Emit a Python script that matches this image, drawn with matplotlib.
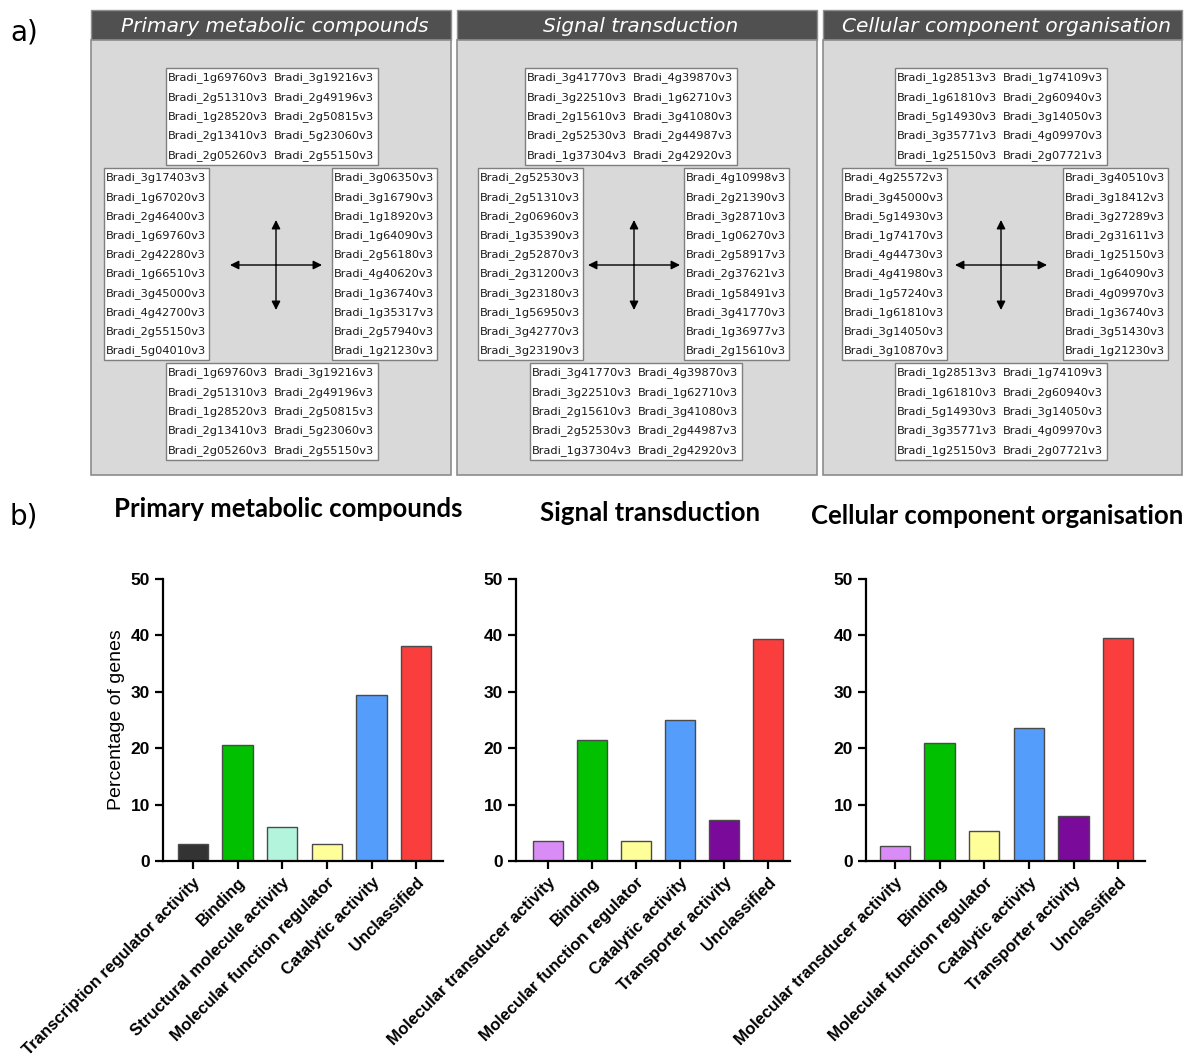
import numpy as np
import matplotlib.pyplot as plt
from matplotlib.patches import Rectangle

# ---- data: part a, gene ids (Bradi_<id>v3) ----
pmc_top = [("1g69760", "3g19216"), ("2g51310", "2g49196"), ("1g28520", "2g50815"),
           ("2g13410", "5g23060"), ("2g05260", "2g55150")]
pmc_left = ["3g17403", "1g67020", "2g46400", "1g69760", "2g42280",
            "1g66510", "3g45000", "4g42700", "2g55150", "5g04010"]
pmc_right = ["3g06350", "3g16790", "1g18920", "1g64090", "2g56180",
             "4g40620", "1g36740", "1g35317", "2g57940", "1g21230"]

sig_top = [("3g41770", "4g39870"), ("3g22510", "1g62710"), ("2g15610", "3g41080"),
           ("2g52530", "2g44987"), ("1g37304", "2g42920")]
sig_left = ["2g52530", "2g51310", "2g06960", "1g35390", "2g52870",
            "2g31200", "3g23180", "1g56950", "3g42770", "3g23190"]
sig_right = ["4g10998", "2g21390", "3g28710", "1g06270", "2g58917",
             "2g37621", "1g58491", "3g41770", "1g36977", "2g15610"]

cco_top = [("1g28513", "1g74109"), ("1g61810", "2g60940"), ("5g14930", "3g14050"),
           ("3g35771", "4g09970"), ("1g25150", "2g07721")]
cco_left = ["4g25572", "3g45000", "5g14930", "1g74170", "4g44730",
            "4g41980", "1g57240", "1g61810", "3g14050", "3g10870"]
cco_right = ["3g40510", "3g18412", "3g27289", "2g31611", "1g25150",
             "1g64090", "4g09970", "1g36740", "3g51430", "1g21230"]

titles = ["Primary metabolic compounds", "Signal transduction", "Cellular component organisation"]

# ---- data: part b ----
pmc_cats = ["Transcription regulator activity", "Binding", "Structural molecule activity",
            "Molecular function regulator", "Catalytic activity", "Unclassified"]
pmc_vals = [3.0, 20.5, 6.0, 3.0, 29.4, 38.2]
pmc_cols = ["#333333", "#00c000", "#b3f5dc", "#ffff99", "#559dfa", "#fa3d3d"]

sig_cats = ["Molecular transducer activity", "Binding", "Molecular function regulator",
            "Catalytic activity", "Transporter activity", "Unclassified"]
sig_vals = [3.6, 21.5, 3.6, 25.0, 7.2, 39.3]
sig_cols = ["#d98cf5", "#00c000", "#ffff99", "#559dfa", "#7a0a99", "#fa3d3d"]

cco_cats = ["Molecular transducer activity", "Binding", "Molecular function regulator",
            "Catalytic activity", "Transporter activity", "Unclassified"]
cco_vals = [2.6, 21.0, 5.3, 23.6, 7.9, 39.5]
cco_cols = ["#d98cf5", "#00c000", "#ffff99", "#559dfa", "#7a0a99", "#fa3d3d"]

W, H = 1188, 1062
fig = plt.figure(figsize=(W / 100, H / 100), dpi=100)

# background axes in pixel coords for part a
bg = fig.add_axes([0, 0, 1, 1])
bg.set_xlim(0, W)
bg.set_ylim(H, 0)
bg.axis("off")

gene = lambda c: f"Bradi_{c}v3"
gfont = dict(fontsize=8.2, family="DejaVu Sans", color="#1a1a1a", va="center", ha="left")

# panel layout: x0, x1, top-box x, left-box x, right-box x, bottom-box x, cross centre x
layout = [
    (91, 451, 166, 104, 332, 166, 276),
    (457, 817, 525, 478, 684, 530, 634),
    (823, 1182, 895, 842, 1063, 895, 1001),
]
panel_data = [(pmc_top, pmc_left, pmc_right), (sig_top, sig_left, sig_right),
              (cco_top, cco_left, cco_right)]

for (x0, x1, tx, lx, rx, bx, cx), (top, left, right), title in zip(layout, panel_data, titles):
    bg.add_patch(Rectangle((x0, 10), x1 - x0, 30, fc="#505050", ec="#909090", lw=1))
    bg.text((x0 + x1) / 2 + 4, 26, title, color="white", fontsize=14.5, style="italic",
            family="DejaVu Sans", ha="center", va="center")
    bg.add_patch(Rectangle((x0, 40), x1 - x0, 435, fc="#d9d9d9", ec="#8c8c8c", lw=1.2))

    # top and bottom boxes (5 rows x 2 cols)
    for bx0, y0 in [(tx, 68), (bx, 363)]:
        bg.add_patch(Rectangle((bx0, y0), 212, 97, fc="white", ec="#7f7f7f", lw=1))
        for i, (a, b) in enumerate(top):
            y = y0 + 10 + i * 19.3
            bg.text(bx0 + 2, y, gene(a), **gfont)
            bg.text(bx0 + 108, y, gene(b), **gfont)
    # left and right boxes (10 rows)
    for bx0, names in [(lx, left), (rx, right)]:
        bg.add_patch(Rectangle((bx0, 168), 105, 192, fc="white", ec="#7f7f7f", lw=1))
        for i, n in enumerate(names):
            bg.text(bx0 + 2, 178 + i * 19.2, gene(n), **gfont)

    # arrow cross
    cy = 265
    arr = dict(arrowstyle="-|>", color="black", lw=1, mutation_scale=13, shrinkA=0, shrinkB=0)
    for d in [1, -1]:
        bg.annotate("", xy=(cx + d * 46, cy), xytext=(cx, cy), arrowprops=arr)
        bg.annotate("", xy=(cx, cy + d * 45), xytext=(cx, cy), arrowprops=arr)

bg.text(10, 33, "a)", fontsize=20, family="DejaVu Sans", va="center", ha="left")
bg.text(10, 517, "b)", fontsize=20, family="DejaVu Sans", va="center", ha="left")

# ---- part b bar charts ----
bar_sets = [(pmc_cats, pmc_vals, pmc_cols), (sig_cats, sig_vals, sig_cols),
            (cco_cats, cco_vals, cco_cols)]
# axis pixel boxes: left, right, xlim
ax_boxes = [(163, 443, (-0.67, 5.6)), (516, 790, (-0.73, 5.5)), (866, 1145, (-0.65, 5.6))]
title_pos = [(288, 509), (650, 513), (997, 516)]
y0_px, y50_px = 861, 579

for (cats, vals, cols), (l, r, xl), (tx, ty), title in zip(bar_sets, ax_boxes, title_pos, titles):
    ax = fig.add_axes([l / W, (H - y0_px) / H, (r - l) / W, (y0_px - y50_px) / H])
    x = np.arange(len(vals))
    ax.bar(x, vals, width=0.68, color=cols, edgecolor="#4a4a4a", linewidth=1)
    ax.set_xlim(*xl)
    ax.set_ylim(0, 50)
    ax.set_yticks([0, 10, 20, 30, 40, 50])
    ax.set_xticks(x)
    ax.set_xticklabels(cats, rotation=45, ha="right", va="top", rotation_mode="anchor",
                       fontsize=12, fontweight="bold", family="Liberation Sans")
    for lab in ax.get_yticklabels():
        lab.set_fontweight("bold")
        lab.set_family("Liberation Sans")
        lab.set_fontsize(12.5)
    ax.spines[["top", "right"]].set_visible(False)
    ax.spines[["left", "bottom"]].set_linewidth(1.6)
    ax.tick_params(axis="both", width=1.6, length=6)
    ax.tick_params(axis="x", pad=4)
    ax.patch.set_alpha(0)
    bg.text(tx, ty, title, fontsize=18.5, fontweight="bold", family="Lato",
            ha="center", va="center")

fig.axes[1].set_ylabel("Percentage of genes", fontsize=14, family="Liberation Sans")

fig.savefig("out.png", dpi=100)
